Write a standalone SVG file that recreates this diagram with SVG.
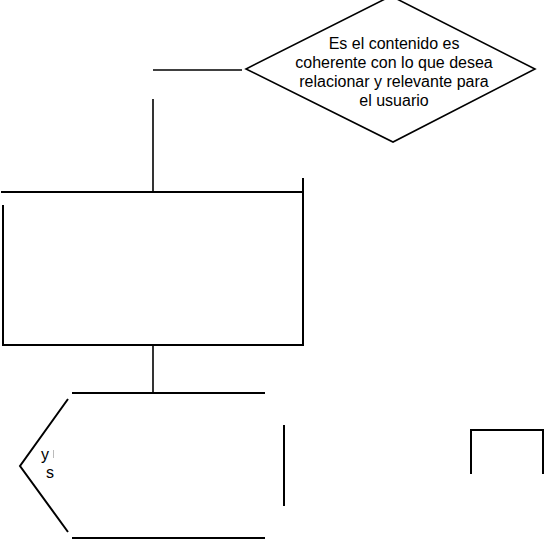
<svg xmlns="http://www.w3.org/2000/svg" width="544" height="539" viewBox="0 0 544 539">
<style>
.ln{stroke:#000;stroke-width:2;fill:none;stroke-linecap:butt}
.thin{stroke:#000;stroke-width:1.6;fill:none}
.t{font-family:"Liberation Sans",Arial,sans-serif;font-size:16px;fill:#000}
</style>
<rect width="544" height="539" fill="#fff"/>
<g id="decision">
<polygon class="thin" points="391,-4 535,69 393,142 246,69" fill="#fff"/>
<text class="t" text-anchor="middle" x="394" y="49">Es el contenido es</text>
<text class="t" text-anchor="middle" x="394" y="68">coherente con lo que desea</text>
<text class="t" text-anchor="middle" x="394" y="87">relacionar y relevante para</text>
<text class="t" text-anchor="middle" x="394" y="106">el usuario</text>
</g>
<g id="process">
<path class="ln" d="M1,192 H304 M303,178 V345 H3 V205"/>
</g>
<g id="display">
<path class="ln" d="M72,393 H265 M68,399 L20,466 L68,532 M72,538 H265 M284,425 V506"/>
<text class="t" x="41" y="460">y</text>
<line x1="53.5" y1="450" x2="53.5" y2="458" stroke="#bbb" stroke-width="1"/>
<text class="t" x="46" y="477.5">s</text>
</g>
<g id="bracket">
<path class="ln" d="M471,474 V430 H543 V474"/>
</g>
<g id="connectors">
<path class="thin" d="M153,70 H242"/>
<path class="thin" d="M153,99 V192"/>
<path class="thin" d="M153,345 V393"/>
</g>
</svg>
